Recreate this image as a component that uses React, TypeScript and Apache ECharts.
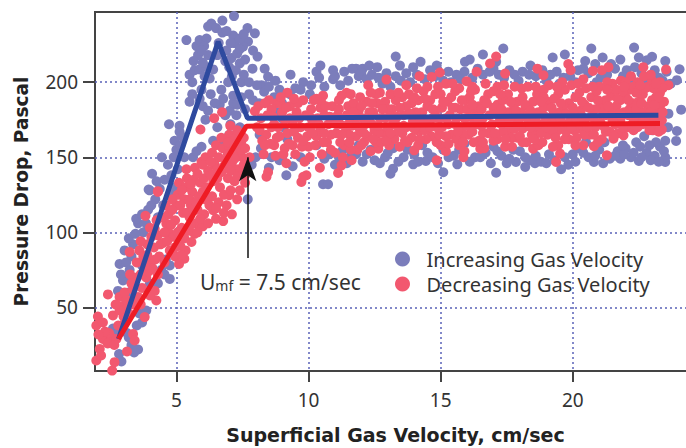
import React, { useEffect, useRef } from "react";
import * as echarts from "echarts";

const xTicks = [5, 10, 15, 20];
const yTicks = [50, 100, 150, 200];
const seriesNames = ["Increasing Gas Velocity", "Decreasing Gas Velocity"];

const increasingFit = [[2.81, 29], [6.58, 227], [7.69, 176], [23.24, 178]];
const decreasingFit = [[2.81, 29], [7.65, 170.7], [23.3, 172.5]];
const arrowFrom = [7.7, 83];
const arrowTo = [7.7, 150];

const increasingRamp = [
  [2.6,36],[2.83,19],[2.92,14],[3.3,25],[3.55,22],[3.13,33],[3.86,48],[3.6,46],[2.79,61],[2.85,79],[2.98,68],[3.23,75],[3.1,70],[3.04,88],[3.36,92],
  [3.3,84],[3.55,106],[3.48,109],[3.93,115],[3.75,100],[3.99,128],[4.2,122],[4.37,129],[4.3,110],[4.75,69],[4.43,75],[4.6,82],[3.4,66],[3.2,60],[3.7,78],
  [4.08,139],[3.95,128.5],[4.68,145],[4.81,138],[4.87,130],[5.1,131],[4.72,172],[5.12,171],[5.12,167],[4.93,161],[5.19,164],[5.0,155],[5.3,150],[5.63,150],[5.76,154],
  [5.95,157],[6.39,161],[6.77,159],[6.1,175],[6.55,170],[6.0,184],[6.2,181],[6.64,185],[7.02,181],[7.27,178],[7.15,186],[5.5,187],[5.88,189],[6.7,195],[6.77,189],
  [7.15,191],[5.6,192],[7.4,170],[7.2,162],[7.0,165],[5.5,205],[5.69,208],[5.88,208.5],[6.39,208.5],[6.07,204],[6.26,202.5],[6.96,200],[7.46,200],[6.15,210],[5.6,200],
  [5.38,228],[5.76,224],[5.88,228],[6.14,229],[5.82,218],[6.2,218],[6.45,247],[7.18,244],[6.74,241],[6.32,239],[6.2,237],[6.5,236],[6.74,233],[7.69,236],[7.97,232.5],
  [7.15,231],[7.2,226],[7.71,227],[7.52,223.6],[7.9,221],[8.07,217],[6.89,221],[7.08,216],[7.4,212.5],[7.88,209],[8.34,209],[9.32,205],[8.47,203.6],[8.75,201],[8.22,198],
  [8.32,193.6],[8.13,186],[7.3,219],[7.6,215],[7.0,210],[6.05,224],[7.4,229],[6.0,213],[6.6,226],[7.7,122],[8.0,150],[8.2,156],[7.85,145],[9.16,138],[8.5,143],
  [5.95,195],[6.3,192],[6.45,186],[6.85,178],[7.05,172],[7.3,185],[7.45,190],[7.6,182],[7.75,192],[7.9,188],[8.05,198],[8.5,197],[8.7,190],[9,186],[9.5,196],
  [9.8,200],[10.05,192],[10.3,207],[6.85,214],[7.25,208],[7.55,205],[7.75,200],[6.9,234],[7.05,226],[7.4,222],[6.55,218],[7.1,204],[5.65,214],[5.95,221],[7.55,232],
  [3.1,80],[2.9,72],[3.2,96],[3.45,99],[3.7,112],[3.85,106],[4.05,118],[4.25,134],[4.55,135],[4.75,125],[4.5,118],[4.45,150],[4.9,150],[5.05,142],[5.15,158],
  [3.2,30],[3.4,20],[2.75,33],[3.7,40],[3.5,38],[4,66],[4.3,66],[4.55,72],[4.75,78],[8.15,165],[8.6,150],[8.9,148],[9.4,144],[9.05,170],[8.85,180],
];

const increasingPlateau = [
  [10.45,211],[13.3,217],[14.24,213.5],[16.6,218.4],[17.37,222.4],[20.7,222.4],[19.7,218.4],[19.24,216.4],[22.32,223],[22.5,216.4],[23,216.9],[23.5,214],[24.04,208.6],[23.94,201.3],[24.1,181.7],
  [23.62,179],[23.94,167.5],[23.91,160.9],[23.5,146.9],[23.5,150],[22.5,147.5],[21.8,149],[20.8,146.9],[19.83,145],[19.56,142],[18.2,143.5],[18.57,146],[17.85,146.9],[17.1,139.7],[15.63,145.3],
  [15.1,140],[13.96,145.3],[13.2,142.4],[13.1,139],[10.55,132],[10.74,132],[14.44,147.5],[11.8,209],[12.05,209],[12.3,211],[12.6,210],[10.93,208],[10.93,202],[12.95,206],[13.46,211],
  [13.96,210],[14.85,211],[15.29,207],[15.92,213.5],[16.1,215],[17.1,213.5],[18.4,211],[19.39,207],[20.47,214],[21.13,216.4],[21.8,215],[22.04,208],[22.8,214.6],[10.4,203],[10.1,198],
  [9.7,195],[9.3,192],[8.9,195],[10.6,197],[11.2,198],[11.5,201],[11.9,204],[12.4,205],[12.8,199],[13.1,197],[13.3,204],[13.7,206],[14.1,205],[14.4,202],[14.8,204],
  [15.1,201],[15.6,205],[15.9,207],[16.2,203],[16.6,205],[17,209],[17.4,203],[17.8,205],[18.1,207],[18.6,204],[19,201],[19.5,199],[19.9,204],[20.2,208],[20.6,206],
  [20.9,200],[21.3,205],[21.6,209],[22.2,203],[22.6,206],[23.1,208],[23.4,201],[23.7,199],[23.2,197],[9.0,176],[9.2,162],[9.7,150],[10.3,158],[10.6,149],[11,145],
  [11.3,155],[11.6,151],[11.9,158],[12.2,152],[12.5,148],[12.9,150],[13.2,156],[13.6,150],[14,152],[14.3,158],[14.7,150],[15.1,155],[15.5,151],[15.9,159],[16.3,150],
  [16.7,153],[17,157],[17.3,151],[17.6,149],[18,154],[18.4,148],[18.8,147],[19.1,152],[19.4,158],[20,152],[20.2,156],[20.6,150],[21,155],[21.4,149],[21.7,154],
  [22,156],[22.2,150],[22.4,160],[22.8,153],[23.1,151],[23.3,157],[23.5,161],[22.7,164],[23,168],[23.6,170],
  [11,204],[11.35,207],[11.65,209],[12,206],[12.2,202],[12.65,203],[13.5,201],[13.85,200],[14.6,208],[15.4,200],[15.75,202],[16.4,209],[16.85,207],[17.2,205],[17.6,208],
  [17.95,201],[18.35,205],[18.85,208],[19.15,205],[19.65,203],[20.1,200],[20.4,209],[20.85,212],[21.05,203],[21.45,212],[21.9,204],[22.35,210],[22.75,201],[23.25,203],[23.55,207],
  [10.8,152],[11.15,150],[11.45,146],[11.8,152],[12.05,147],[12.35,155],[12.7,146],[13,153],[13.4,147],[13.75,155],[14.15,147],[14.5,153],[14.9,146],[15.3,150],[15.7,155],
  [16.1,147],[16.5,150],[16.9,146],[17.15,154],[17.5,146],[17.75,155],[18.2,150],[18.6,151],[19,146],[19.3,148],[19.7,150],[20.1,147],[20.4,153],[20.85,151],[21.15,146],
  [21.6,151],[21.95,152],[22.3,153],[22.6,150],[22.95,148],[23.25,147],[23.45,154],[23.15,160],[22.9,158],[22.55,157],[21.9,158],[21.2,160],[20.5,160],
];

const decreasingRamp = [
  [1.9,48],[2.03,44],[1.97,38],[2.22,40],[2.22,29],[2.1,22.4],[1.97,14.7],[2.57,8],[2.66,13.6],[3.13,20.7],[3.36,32.4],[3.42,28],[2.54,30],[2.73,29],[2.41,58.7],
  [2.6,44.7],[2.98,51],[2.85,57],[3.04,60],[3.8,43.6],[3.42,52.4],[4.24,54.7],[4.18,61],[3.86,70],[5.3,82.4],[5.69,99],[5.57,93.6],[6.77,107.5],[7,124.7],[6.39,114.7],
  [3.83,111],[3.23,87],[4.18,102.4],[4.62,105.8],[2.8,38],[2.45,33],[3,44],[3.2,46],[3.1,55],[3.35,62],[3.55,57],[3.7,63],[3.5,70],[3.25,72],[3.5,80],
  [3.6,88],[3.75,84],[3.95,80],[4.1,76],[4.3,72],[3.9,92],[4.15,90],[4.35,84],[4.55,80],[4.05,97],[4.3,98],[4.5,93],[4.75,88],[4.95,84],[5.1,79],
  [4.7,100],[4.9,97],[5.15,91],[5.35,88],[4.45,110],[4.7,112],[4.95,108],[5.2,103],[5.45,101],[5.0,118],[5.25,113],[5.5,110],[5.75,106],[6.0,104],[5.05,125],
  [5.3,122],[5.55,118],[5.8,115],[6.05,112],[4.85,122],[4.3,127],[5.38,142],[5.95,147],[5.1,133],[5.35,130],[5.6,127],[5.85,124],[6.1,122],[6.35,124],[6.6,120],
  [5.4,136],[5.65,135],[5.9,133],[6.15,130],[6.4,134],[6.65,130],[6.9,118],[7.1,112],[5.7,143],[6.2,141],[6.45,145],[6.7,140],[6.95,136],[7.2,134],[7.4,128],
  [6.1,150],[6.35,153],[6.6,150],[6.85,148],[7.1,146],[7.35,142],[7.6,138],[6.5,158],[6.75,156],[7,157],[7.25,153],[7.5,150],[7.77,150],[7,165],[7.25,163],
  [7.45,160],[6.73,180],[6.43,176],[5.91,168.5],[7.04,171],[4.3,127.4],[7.97,180.7],[8.47,140],[8.41,137],[7.6,133],[7.45,165],
  [3.95,74],[3.65,94],[4,103],[4.25,108],[4.55,100],[4.8,105],[5.05,100],[5.3,96],[5.55,105],[5.8,100],[4.6,118],[4.85,115],[5.15,118],[5.4,113],[5.65,115],
  [5.9,109],[6.2,106],[6.5,109],[5.2,128],[5.5,122],[5.75,120],[6,127],[6.25,118],[6.5,116],[6.8,113],[5.55,132],[5.8,139],[6.05,136],[6.3,138],[6.55,136],
  [6.8,125],[7.05,128],[7.3,122],[6,145],[6.55,142],[6.8,144],[7.05,141],[7.3,137],[7.55,145],[6.3,147],[6.95,152],[7.2,149],[7.45,155],[6.7,163],[6.95,160],
  [7.2,158],[7.6,156],[7.3,168],[7.55,163],[3.65,72],[3.8,78],[3.3,52],[3.1,49],[2.85,48],[2.7,52],[3.3,66],[4,58],[3.65,52],[2.4,26],[2.65,25],
  [2.3,34],[2.05,32],[2.15,18],[3.05,40],[3.9,85],[4.2,82],[4.4,92],[4.65,94],[4.95,90],[5.2,85],
];

const decreasingPlateau = [
  [12.95,201.7],[10.55,191],[11.44,192.9],[12.26,198],[13.7,198],[14.2,204],[14.66,203.5],[14.97,206.4],[15.2,199],[15.98,200.6],[16.36,206.9],[16.87,212.4],[17.1,217],[17.44,205.7],[18.07,195.7],
  [18.66,209],[18.89,204.6],[19.83,212],[19.92,208],[20.76,207.5],[21.35,210],[21.1,208],[21.82,201],[22.67,210],[23.53,208.4],[23.62,198],[23.37,174.6],[23.37,168.4],[9.73,133.5],[9.92,138],
  [11.12,139.5],[10.43,143],[11.25,144.6],[11.63,148],[12.64,155.7],[14,154.6],[14.85,148],[15.86,150],[16.5,155.7],[17.44,157],[18.5,155.7],[19.37,146.9],[19.52,152.4],[20.4,158],[20.8,157.3],
  [21.29,151.3],[21.92,164.6],[21.54,162.4],[8.8,186],[9.16,146],[9.8,137],[9.8,188],[8.6,182],[8.2,176],[8.4,165],[8.7,172],[9,180],[9.3,184],[8.3,152],[8.7,158],
  [9.1,156],[8.9,164],[9.4,172],[9.6,163],[9.5,152],[9.85,147],[10,157],[10,170],[10.1,182],[10.35,176],[10.3,164],[10.5,152],[10.7,160],[10.75,172],[10.9,184],
  [11.1,178],[11.05,166],[11,153],[11.35,158],[11.4,170],[11.5,184],[11.75,176],[11.8,164],[11.85,155],[12.1,160],[12.15,172],[12.2,187],[12.45,180],[12.5,168],[12.55,160],
  [12.85,166],[12.9,176],[12.9,187],[13.15,182],[13.2,172],[13.25,162],[13.55,166],[13.6,178],[13.55,190],[13.9,186],[13.95,174],[13.9,163],[14.25,168],[14.3,180],[14.35,194],
  [14.6,188],[14.7,176],[14.65,164],[15,158],[15.05,170],[15.05,183],[15.4,190],[15.35,178],[15.4,165],[15.7,158],[15.75,170],[15.75,182],[16.1,190],[16.1,177],[16.05,165],
  [16.4,172],[16.45,184],[16.45,161],[16.8,166],[16.85,178],[16.8,192],[17.15,197],[17.15,185],[17.2,173],[17.15,162],[17.55,168],[17.55,180],[17.55,192],[17.9,187],[17.95,175],
  [17.9,163],[18.25,160],[18.3,172],[18.3,184],[18.65,192],[18.7,180],[18.65,168],[18.7,158],[19.05,165],[19.1,176],[19.05,187],[19.1,198],[19.45,192],[19.5,180],[19.45,168],
  [19.45,158],[19.85,162],[19.9,174],[19.85,186],[19.95,198],[20.25,193],[20.3,181],[20.25,169],[20.65,165],[20.7,177],[20.7,190],[21,197],[21.05,185],[21.05,173],[21.1,162],
  [21.4,167],[21.45,179],[21.45,191],[21.8,188],[21.8,175],[22.1,170],[22.15,182],[22.15,195],[22.45,200],[22.5,187],[22.5,175],[22.85,172],[22.85,184],[22.85,197],[23.15,190],
  [23.2,180],[23.2,170],[23.45,187],[11.6,192],[12.7,193],[15.7,196],[16.7,199],[18.3,197],[20.4,202],[21.5,199],[22.2,204],[23,201],[23.3,193],[9.2,193],
];

const decreasingPlateauDense = [
  [8.05,170],[8.25,161],[8.45,178],[8.55,159],[8.75,151],[8.85,170],[8.95,186],[9.05,152],[9.2,166],[9.3,176],[9.4,158],[9.55,180],[9.7,170],[9.75,157],[9.9,178],
  [9.95,164],[10.05,150],[10.2,188],[10.2,172],[10.25,158],[10.45,183],[10.45,168],[10.55,160],[10.6,178],[10.85,165],[10.85,155],[10.95,176],[11.15,188],[11.2,172],[11.2,160],
  [11.3,150],[11.45,178],[11.55,165],[11.6,155],[11.7,186],[11.65,171],[11.9,181],[11.95,168],[12,158],[12.05,176],[12.25,164],[12.3,180],[12.35,154],[12.4,172],[12.6,186],
  [12.7,176],[12.65,166],[12.75,160],[13,182],[13,170],[13.05,158],[13.3,188],[13.35,177],[13.4,167],[13.45,157],[13.7,184],[13.7,170],[13.75,160],[13.8,192],[14.05,180],
  [14.1,168],[14.15,158],[14.15,188],[14.45,174],[14.45,162],[14.5,184],[14.5,197],[14.8,181],[14.85,170],[14.85,160],[14.8,192],[15.2,176],[15.2,164],[15.2,154],[15.25,187],
  [15.55,172],[15.55,183],[15.6,162],[15.55,194],[15.9,176],[15.9,165],[15.9,154],[15.95,188],[16.25,172],[16.25,160],[16.3,182],[16.3,195],[16.6,176],[16.6,166],[16.65,188],
  [16.65,156],[16.95,172],[17,183],[17,161],[17,194],[17.35,177],[17.35,167],[17.35,188],[17.4,198],[17.7,174],[17.7,163],[17.75,185],[17.7,157],[18.05,180],[18.1,169],
  [18.1,160],[18.1,190],[18.45,176],[18.45,165],[18.5,187],[18.85,172],[18.9,183],[18.85,160],[18.9,195],[19.25,178],[19.25,168],[19.3,189],[19.25,157],[19.65,172],[19.65,184],
  [19.7,162],[19.7,195],[20.05,178],[20.05,168],[20.1,190],[20.1,158],[20.45,174],[20.45,185],[20.45,165],[20.5,196],[20.85,170],[20.85,182],[20.9,194],[20.95,160],[21.25,178],
  [21.25,167],[21.25,188],[21.3,200],[21.6,172],[21.65,184],[21.65,195],[21.7,166],[21.95,180],[22,190],[22,170],[22,200],[22.3,176],[22.3,186],[22.3,197],[22.3,168],
  [22.65,180],[22.65,192],[22.65,172],[22.7,204],[23,176],[23,188],[23.05,196],[23.05,168],[23.3,184],[23.3,176],[23.3,200],[8.1,184],[8.5,188],[8.95,190],[9.6,186],
  [10.5,186],[11.95,190],[12.55,192],[13.1,192],[14.1,196],[15,192],[15.45,199],[16.2,197],[17.8,197],[18.9,190],[19.6,200],[20.2,199],[21.3,195],[22.4,193],[22.95,205],
];

const decreasingPlateauFill = [
  [8.15,168],[8.35,158],[8.65,177],[8.8,163],[9.1,175],[9.25,159],[9.45,167],[9.65,176],[9.8,161],[10.1,176],[10.15,166],[10.4,172],[10.6,166],[10.65,184],[10.8,177],
  [11.05,172],[11.15,182],[11.25,165],[11.5,172],[11.55,160],[11.7,180],[11.85,171],[12,184],[12.1,166],[12.3,175],[12.4,186],[12.45,162],[12.65,171],[12.8,182],[12.95,161],
  [13.1,177],[13.1,166],[13.3,172],[13.45,183],[13.6,171],[13.65,161],[13.85,179],[14,169],[14,190],[14.2,174],[14.2,162],[14.4,168],[14.4,189],[14.6,170],[14.7,182],
  [14.95,176],[14.95,165],[15.1,187],[15.3,172],[15.3,159],[15.45,183],[15.6,176],[15.65,167],[15.8,188],[15.85,160],[16,182],[16,171],[16.2,167],[16.2,185],[16.35,177],
  [16.55,171],[16.55,182],[16.6,160],[16.75,186],[16.9,171],[17.05,166],[17.1,179],[17.3,172],[17.3,182],[17.45,162],[17.6,175],[17.65,187],[17.8,169],[17.85,181],[18,176],
  [18,164],[18.2,185],[18.2,177],[18.4,170],[18.4,181],[18.55,162],[18.6,175],[18.8,187],[18.8,166],[18.95,177],[19,170],[19.2,183],[19.3,173],[19.35,163],[19.55,186],
  [19.55,175],[19.75,179],[19.75,167],[19.95,170],[20,183],[20.15,175],[20.15,163],[20.35,187],[20.35,177],[20.55,170],[20.6,183],[20.8,176],[20.8,165],[20.95,188],[21.15,180],
  [21.2,170],[21.35,184],[21.5,175],[21.55,164],[21.7,189],[21.75,179],[21.9,170],[21.9,194],[22.1,178],[22.1,188],[22.25,172],[22.4,182],[22.45,170],[22.6,186],[22.75,177],
  [22.75,196],[22.9,168],[22.95,180],[23.1,185],[23.1,174],[23.25,190],[23.25,167],[23.4,180],[23.4,196],[23.15,199],[22.55,198],[21.95,197],[20.75,197],[19.4,197],[18.6,197],
  [17.25,192],[16.15,194],[14.9,197],[13.4,193],[12.35,193],[11.25,191],[10.3,189],[9.45,189],[8.35,186],[8.6,170],[9.15,183],
];

const App = () => {
  const ref = useRef<HTMLDivElement>(null);
  useEffect(() => {
    document.body.style.margin = "0";
    const chart = echarts.init(ref.current!, null, { renderer: "svg" });
    const font = "'Noto Sans', sans-serif";
    const titleFont = "'DejaVu Sans', sans-serif";
    const dotted = { show: true, lineStyle: { color: "#5A62B8", type: [2, 3] as any, width: 1.5 } };
    chart.setOption({
      animation: false,
      backgroundColor: "#fff",
      textStyle: { fontFamily: font },
      grid: { left: 95, top: 12, right: -2, bottom: 77, outerBoundsMode: "none", show: true, borderColor: "#444", borderWidth: 2, backgroundColor: "transparent" },
      legend: {
        orient: "vertical", left: 395, top: 249, padding: 0, itemGap: 5, itemWidth: 30, itemHeight: 15, icon: "circle", selectedMode: false,
        data: seriesNames,
        textStyle: { fontSize: 20, lineHeight: 20, color: "#333", fontFamily: font, padding: [0, 0, 0, 4] },
      },
      xAxis: {
        type: "value", min: 1.92, max: 24.36,
        name: "Superficial Gas Velocity, cm/sec", nameLocation: "middle", nameGap: 54,
        nameTextStyle: { fontSize: 19, fontWeight: "bold", color: "#222", fontFamily: titleFont, padding: [0, 0, 0, 8] },
        axisLine: { show: false },
        axisTick: { show: true, customValues: xTicks, length: 11, lineStyle: { color: "#444", width: 2 } },
        axisLabel: { customValues: xTicks, fontSize: 19, color: "#333", margin: 19, fontFamily: font },
        splitLine: dotted,
      },
      yAxis: {
        type: "value", min: 7.7, max: 246.7,
        name: "Pressure Drop, Pascal", nameLocation: "middle", nameGap: 64,
        nameTextStyle: { fontSize: 18.6, fontWeight: "bold", color: "#222", fontFamily: titleFont },
        axisLine: { show: false },
        axisTick: { show: true, customValues: yTicks, length: 12, lineStyle: { color: "#444", width: 2 } },
        axisLabel: { customValues: yTicks, fontSize: 19, color: "#333", margin: 17, fontFamily: font },
        splitLine: dotted,
      },
      graphic: [{
        type: "text", left: 200, top: 271, z: 20,
        style: {
          text: "{a|U}{b|mf}{a| = 7.5 cm/sec}",
          rich: {
            a: { fontSize: 21, fill: "#333", fontFamily: font },
            b: { fontSize: 14, fill: "#333", fontFamily: font, verticalAlign: "bottom", padding: [6, 0, 0, 0] },
          },
        },
      }],
      series: [
        { name: seriesNames[0], type: "scatter", symbolSize: 10, z: 2, itemStyle: { color: "#7B7DBB", opacity: 1 }, data: [...increasingRamp, ...increasingPlateau] },
        { name: seriesNames[1], type: "scatter", symbolSize: 10, z: 3, itemStyle: { color: "#F2586F", opacity: 1 }, data: [...decreasingRamp, ...decreasingPlateau, ...decreasingPlateauDense, ...decreasingPlateauFill] },
        { type: "line", z: 4, showSymbol: false, silent: true, lineStyle: { color: "#2F4A9F", width: 5 }, data: increasingFit },
        {
          type: "line", z: 5, showSymbol: false, silent: true, lineStyle: { color: "#EE1C25", width: 5 }, data: decreasingFit,
          markLine: {
            silent: true, symbol: ["none", "arrow"], symbolSize: [13, 24], label: { show: false },
            lineStyle: { color: "#111", width: 1.5, type: "solid" },
            data: [[{ coord: arrowFrom }, { coord: arrowTo }]],
          },
        },
      ],
    });
    return () => chart.dispose();
  }, []);
  return <div ref={ref} style={{ width: 686, height: 448 }} />;
};

export default App;
